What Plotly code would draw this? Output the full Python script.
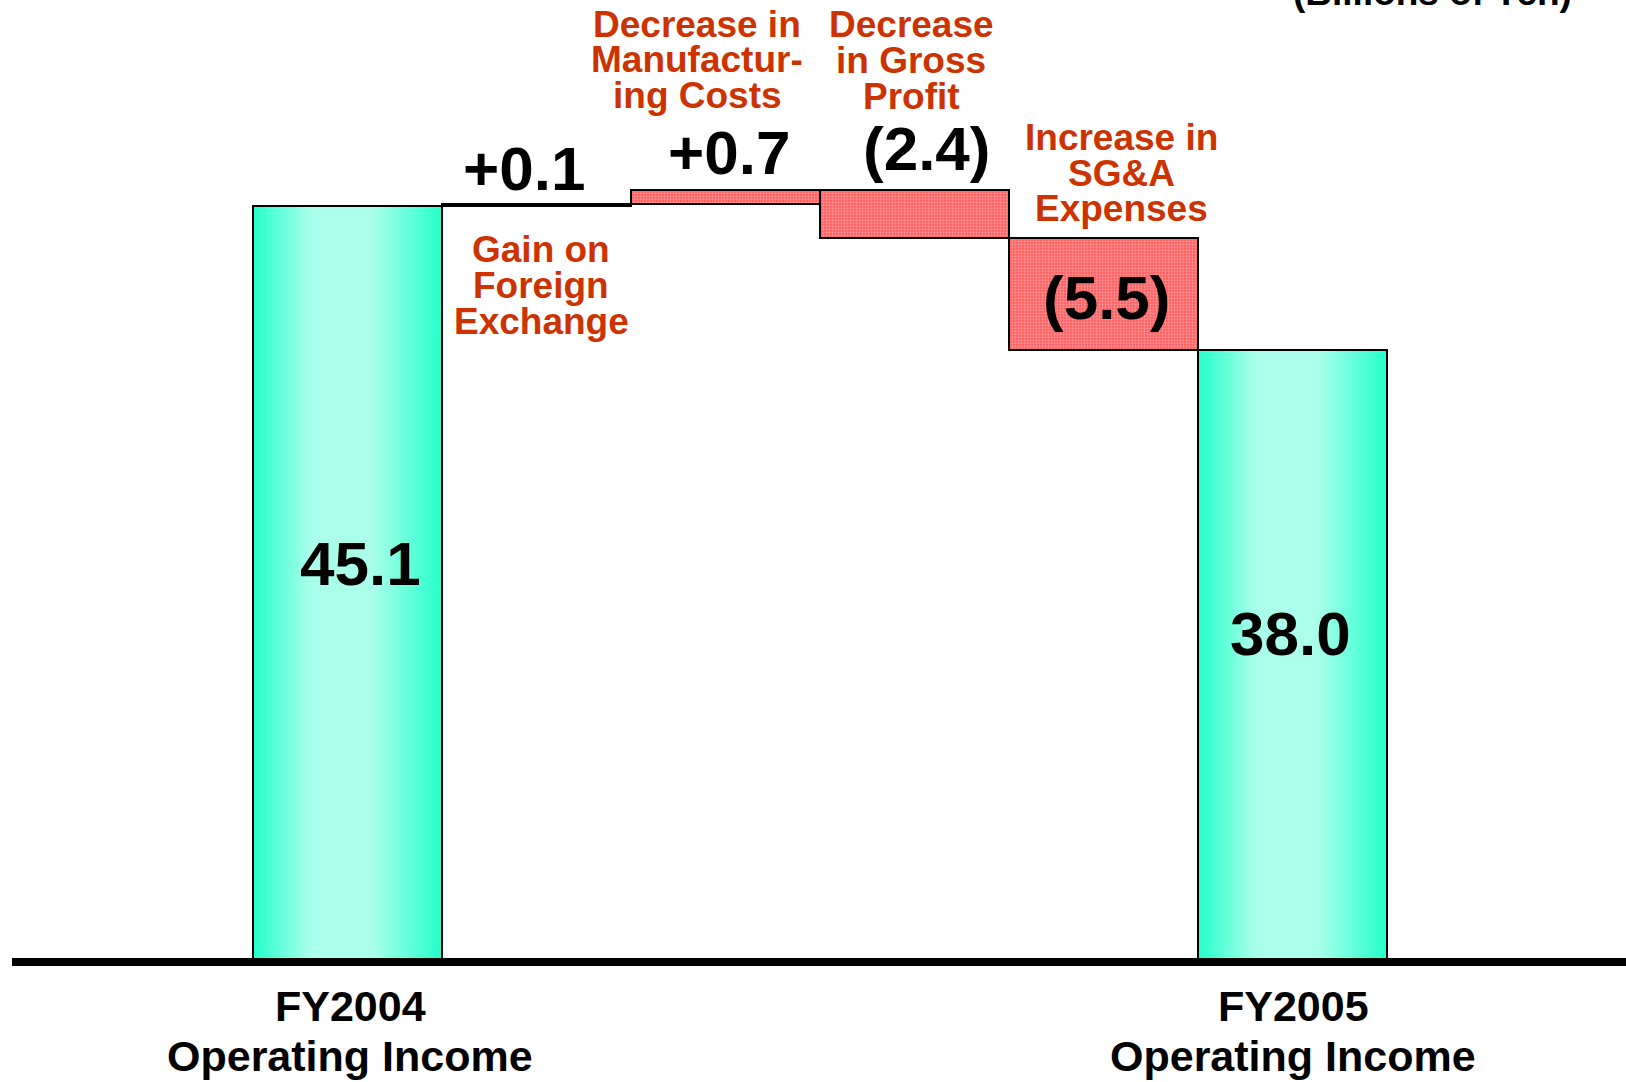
import plotly.graph_objects as go

# ---------------- data (billions of yen) ----------------
categories = ["FY2004 Operating Income", "Gain on Foreign Exchange",
              "Decrease in Manufacturing Costs", "Decrease in Gross Profit",
              "Increase in SG&A Expenses", "FY2005 Operating Income"]
fy2004_income = 45.1
changes = [0.1, 0.7, -2.4, -5.5]
fy2005_income = 38.0
value_labels = ["45.1", "+0.1", "+0.7", "(2.4)", "(5.5)", "38.0"]
total_label_lines = [["FY2004", "Operating Income"], ["FY2005", "Operating Income"]]
driver_label_lines = [["Gain on", "Foreign", "Exchange"],
                      ["Decrease in", "Manufactur-", "ing Costs"],
                      ["Decrease", "in Gross", "Profit"],
                      ["Increase in", "SG&A", "Expenses"]]
unit_label = "(Billions of Yen)"

# ---------------- page geometry ----------------
W, H = 1626, 1082
ML, MR, MT, MB = 12, 0, 0, 120
PW, PH = W - ML - MR, H - MT - MB


def px_to_paper_x(px):
    return (px - ML) / PW


def px_to_paper_y(py):
    return (MT + PH - py) / PH


FONT = "Liberation Sans, Arial, Helvetica, sans-serif"
RED_TEXT = "#CC3300"
TEAL_EDGE = (38, 255, 204)
TEAL_LIGHT = (170, 255, 234)

total_x = [0, len(changes) + 1]
total_y = [fy2004_income, fy2005_income]
change_x = list(range(1, len(changes) + 1))
running = [fy2004_income]
for c in changes:
    running.append(running[-1] + c)
change_base = running[:-1]

fig = go.Figure()

# teal totals: stacked layers give a horizontal light-in-the-middle gradient
steps = 24
left_ramp, right_ramp = 0.30, 0.36
for k in range(steps + 1):
    t = k / steps
    dl, dr = left_ramp * t, right_ramp * t
    col = tuple(round(a + (b - a) * t) for a, b in zip(TEAL_EDGE, TEAL_LIGHT))
    fig.add_trace(go.Bar(
        x=total_x, y=total_y, width=1 - dl - dr, offset=-0.5 + dl,
        marker=dict(color="rgb(%d,%d,%d)" % col, line=dict(width=0)),
        hoverinfo="skip", showlegend=False))
fig.add_trace(go.Bar(
    x=total_x, y=total_y, width=1, offset=-0.5,
    marker=dict(color="rgba(0,0,0,0)", line=dict(color="black", width=2)),
    hovertext=[categories[0], categories[-1]], showlegend=False))

# change steps, hatched red
fig.add_trace(go.Bar(
    x=change_x, y=changes, base=change_base, width=1, offset=-0.5,
    marker=dict(color="#FF6060", line=dict(color="black", width=2),
                pattern=dict(shape=".", fgcolor="#FFD0D0", bgcolor="#FF5A5A",
                             size=3, solidity=0.45, fillmode="overlay")),
    hovertext=categories[1:-1], showlegend=False))

annotations = []


def add_text(text, px, py, size, color="black"):
    annotations.append(dict(
        text=text, x=px_to_paper_x(px), y=px_to_paper_y(py),
        xref="paper", yref="paper", xanchor="center", yanchor="middle",
        showarrow=False, borderpad=0,
        font=dict(family=FONT, size=size, color=color)))


# value labels
value_pos = [(360, 564), (524, 168), (729, 152), (926, 148), (1106, 298), (1290, 633)]
for txt, (px, py) in zip(value_labels, value_pos):
    add_text("<b>%s</b>" % txt, px, py, 62)

# driver descriptions
driver_pos = [(541, 250), (697, 24), (911, 25), (1121, 138)]
for lines, (px, py) in zip(driver_label_lines, driver_pos):
    for i, line in enumerate(lines):
        add_text("<b>%s</b>" % line, px, py + 35.5 * i, 37, RED_TEXT)

# category labels under the axis
total_label_pos = [(350, 1006), (1293, 1006)]
for lines, (px, py) in zip(total_label_lines, total_label_pos):
    for i, line in enumerate(lines):
        add_text("<b>%s</b>" % line, px, py + 50 * i, 43)

# unit note
add_text("<b>%s</b>" % unit_label, 1432, -8, 37)

fig.update_layout(
    width=W, height=H,
    margin=dict(l=ML, r=MR, t=MT, b=MB, pad=0),
    paper_bgcolor="white", plot_bgcolor="white",
    barmode="overlay", bargap=0,
    showlegend=False,
    xaxis=dict(range=[-1.775, 6.765], visible=False, fixedrange=True),
    yaxis=dict(range=[7.82, 55.26], visible=False, fixedrange=True),
    annotations=annotations,
    shapes=[dict(type="line", xref="paper", yref="paper", x0=0, x1=1, y0=0, y1=0,
                 line=dict(color="black", width=8), layer="above")],
)

fig.write_html("out.html")
